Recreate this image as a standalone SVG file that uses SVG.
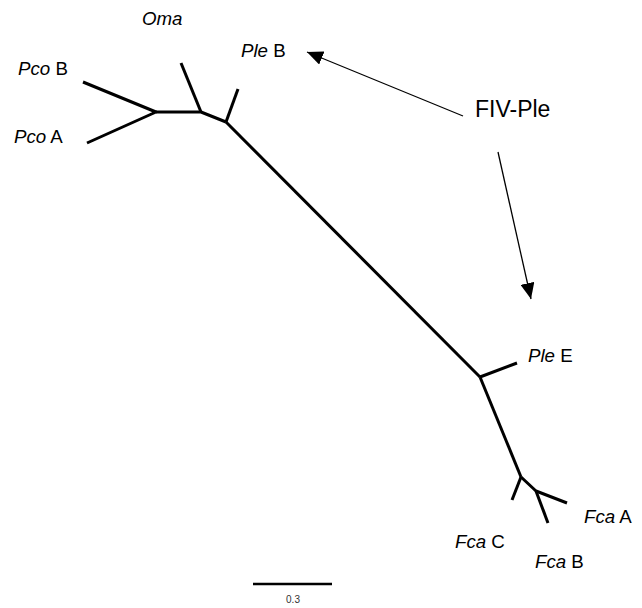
<svg xmlns="http://www.w3.org/2000/svg" width="642" height="608" viewBox="0 0 642 608">
<style>
.br{stroke:#000;stroke-width:3;fill:none;stroke-linecap:butt;stroke-linejoin:round}
.lbl{font-family:"Liberation Sans",Arial,sans-serif;font-size:18.7px;fill:#000}
.it{font-style:italic}
.ar{stroke:#000;stroke-width:1.3;fill:none}
</style>
<defs>
<marker id="ah" viewBox="0 0 10 10" refX="10" refY="5" markerWidth="16" markerHeight="14" markerUnits="userSpaceOnUse" orient="auto" preserveAspectRatio="none">
<path d="M0,0 L10,5 L0,10 z" fill="#000"/>
</marker>
</defs>
<rect width="642" height="608" fill="#fff"/>
<g id="connectors">
<path class="br" d="M83,82 L156,112 L87,143"/>
<path class="br" d="M156,112 L201,112 L226,122"/>
<path class="br" d="M201,112 L181,63"/>
<path class="br" d="M226,122 L238,89"/>
<path class="br" d="M226,122 L480,377"/>
<path class="br" d="M480,377 L517,363"/>
<path class="br" d="M480,377 L521,477"/>
<path class="br" d="M521,477 L512,500"/>
<path class="br" d="M521,477 L536,491 L567,503"/>
<path class="br" d="M536,491 L548,523"/>
<line class="ar" x1="463" y1="116" x2="307" y2="52" marker-end="url(#ah)"/>
<line class="ar" x1="498" y1="152" x2="531" y2="299" marker-end="url(#ah)"/>
</g>
<g id="PcoB"><text class="lbl" x="18" y="75"><tspan class="it">Pco</tspan> B</text></g>
<g id="PcoA"><text class="lbl" x="14" y="143"><tspan class="it">Pco</tspan> A</text></g>
<g id="Oma"><text class="lbl it" x="142" y="25">Oma</text></g>
<g id="PleB"><text class="lbl" x="241" y="57"><tspan class="it">Ple</tspan> B</text></g>
<g id="FIVPle"><text class="lbl" x="475" y="117" style="font-size:23px">FIV-Ple</text></g>
<g id="PleE"><text class="lbl" x="528" y="362"><tspan class="it">Ple</tspan> E</text></g>
<g id="FcaA"><text class="lbl" x="584" y="523"><tspan class="it">Fca</tspan> A</text></g>
<g id="FcaC"><text class="lbl" x="455" y="548"><tspan class="it">Fca</tspan> C</text></g>
<g id="FcaB"><text class="lbl" x="535" y="568"><tspan class="it">Fca</tspan> B</text></g>
<g id="scale">
<line x1="253" y1="584" x2="332" y2="584" stroke="#000" stroke-width="2.5"/>
<text x="293" y="603" text-anchor="middle" style="font-family:'Liberation Sans',Arial,sans-serif;font-size:10px;fill:#333">0.3</text>
</g>
</svg>
